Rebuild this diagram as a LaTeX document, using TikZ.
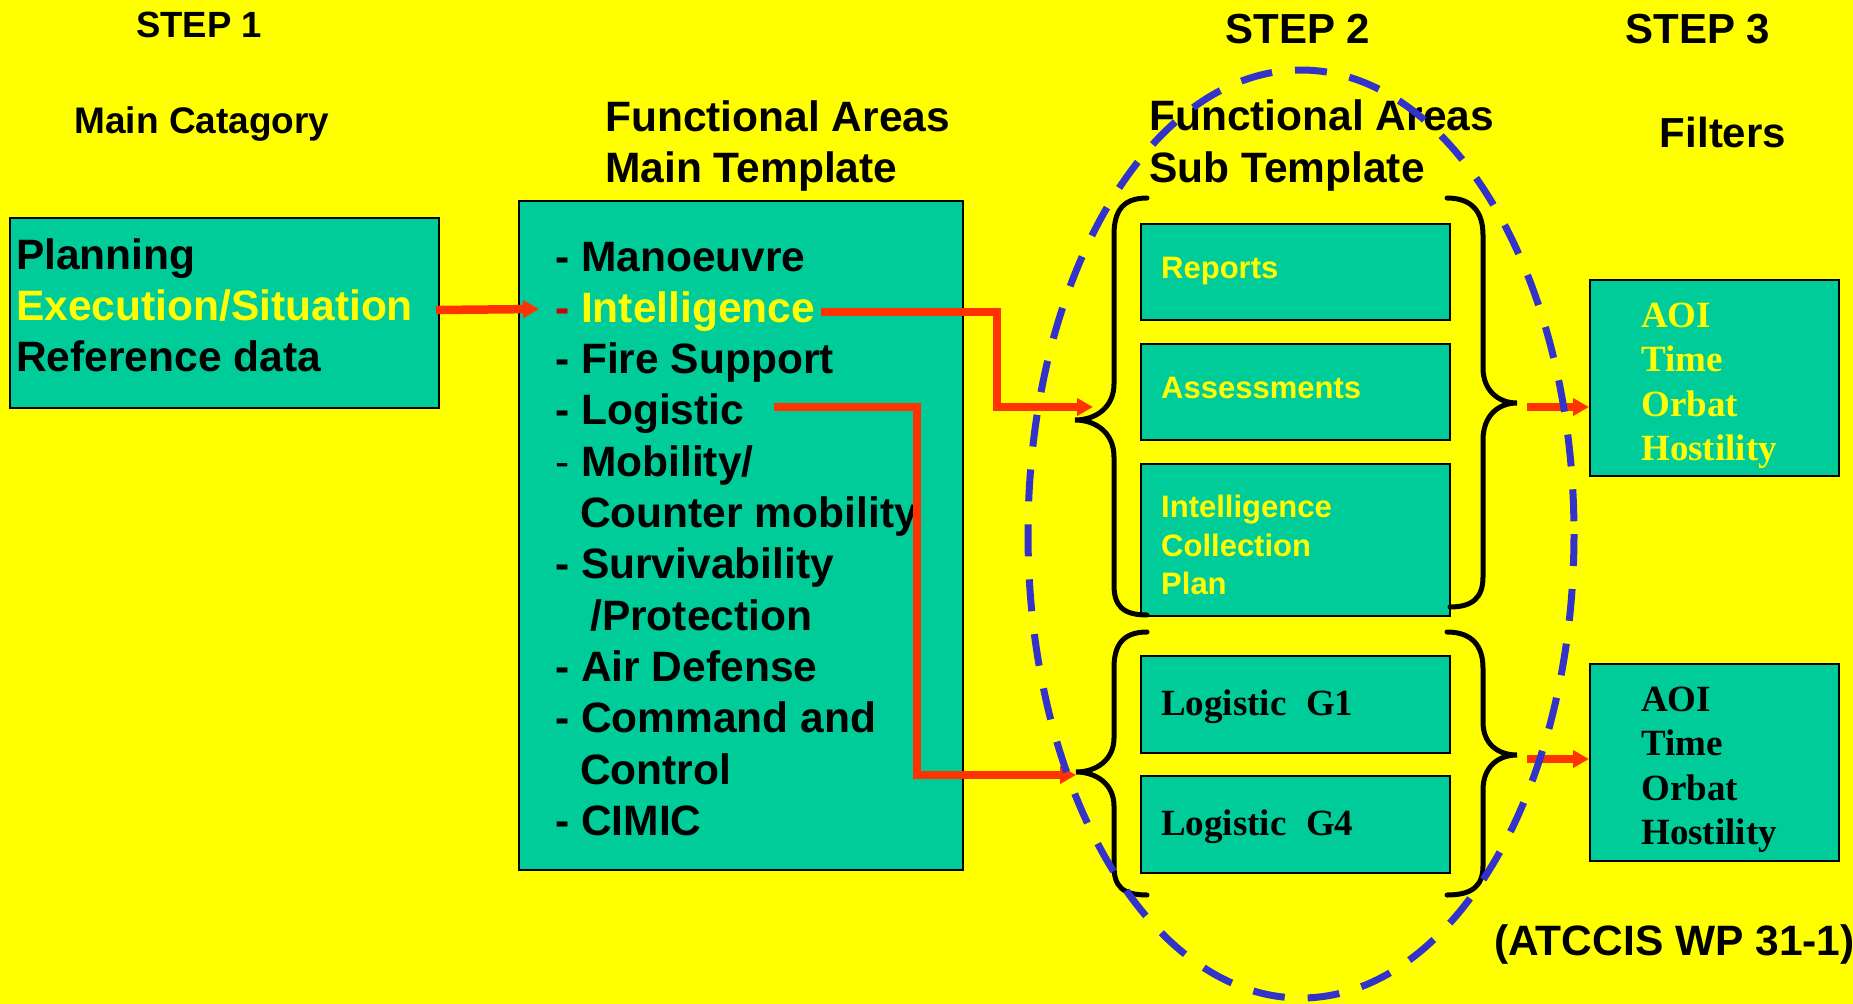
\documentclass[tikz,border=0pt]{standalone}
\usepackage{fontspec}
\setmainfont{Liberation Sans}
\newfontfamily\timesf{Liberation Serif}
\usetikzlibrary{arrows.meta}
\definecolor{bgy}{HTML}{FFFF00}
\definecolor{boxg}{HTML}{00CC99}
\definecolor{redl}{HTML}{FF3300}
\definecolor{dashred}{HTML}{CC0000}
\definecolor{elblue}{HTML}{3333CC}
\definecolor{txty}{HTML}{FFFF00}
\tikzset{
  box/.style={draw=black, line width=2pt, fill=boxg, inner sep=0pt, anchor=north west},
  txt/.style={inner sep=0pt, anchor=base west},
  ctxt/.style={inner sep=0pt, anchor=base},
  big/.style={font=\bfseries\fontsize{42.5}{51}\selectfont},
  head/.style={font=\bfseries\fontsize{36.5}{44}\selectfont},
  subt/.style={font=\bfseries\fontsize{31}{38}\selectfont, text=txty},
  filt/.style={font=\timesf\bfseries\fontsize{37}{44}\selectfont},
  rarr/.style={draw=redl, line width=8.5pt, -{Triangle[length=16pt,width=17pt]}},
  bracepath/.style={draw=black, line width=5pt, line cap=round},
  ell/.style={draw=elblue, line width=7pt, dash pattern=on 32pt off 23pt},
}
\begin{document}
\begin{tikzpicture}[x=1pt,y=-1pt]
\fill[bgy] (0,0) rectangle (1853,1004);
\useasboundingbox (0,0) rectangle (1853,1004);

% headings
\node[ctxt, head] (s1) at (199,37) {STEP 1};
\node[ctxt, head, font=\bfseries\fontsize{37}{44}\selectfont] (mc) at (202,133) {Main Catagory};
\node[ctxt, big, font=\bfseries\fontsize{42}{50}\selectfont] (s2) at (1298,43) {STEP 2};
\node[ctxt, big, font=\bfseries\fontsize{42}{50}\selectfont] (s3) at (1698,43) {STEP 3};
\node[ctxt, big, font=\bfseries\fontsize{42}{50}\selectfont] (fl) at (1723,147) {Filters};
\node[txt, big] (fa1) at (605,131) {Functional Areas};
\node[txt, big] (fa2) at (605,182) {Main Template};
\node[txt, big] (fs1) at (1149,130) {Functional Areas};
\node[txt, big] (fs2) at (1149,182) {Sub Template};

% step 1 box
\node[box, minimum width=429pt, minimum height=190pt] (b1) at (9,217) {};
\node[txt, big] (p1) at (16,269) {Planning};
\node[txt, big, text=txty] (p2) at (16,320) {Execution/Situation};
\node[txt, big] (p3) at (16,371) {Reference data};

% main template box
\node[box, minimum width=444pt, minimum height=669pt] (b2) at (518,200) {};
\node[txt, big] (m1) at (555,271) {- Manoeuvre};
\node[txt, big] (m2) at (555,322.3) {\textcolor{dashred}{-} \textcolor{txty}{Intelligence}};
\node[txt, big] (m3) at (555,373.6) {- Fire Support};
\node[txt, big] (m4) at (555,424.9) {- Logistic};
\node[txt, big] (m5) at (555,476.2) {{\mdseries -} Mobility/};
\node[txt, big] (m6) at (580,527.5) {Counter mobility};
\node[txt, big] (m7) at (555,578.8) {- Survivability};
\node[txt, big] (m8) at (590,630.1) {/Protection};
\node[txt, big] (m9) at (555,681.4) {- Air Defense};
\node[txt, big] (m10) at (555,732.7) {- Command and};
\node[txt, big] (m11) at (580,784) {Control};
\node[txt, big] (m12) at (555,835.3) {- CIMIC};

% sub template boxes
\node[box, minimum width=309pt, minimum height=96pt] (r1) at (1140,223) {};
\node[txt, subt] (r1t) at (1161,278) {Reports};
\node[box, minimum width=309pt, minimum height=96pt] (r2) at (1140,343) {};
\node[txt, subt] (r2t) at (1161,398) {Assessments};
\node[box, minimum width=309pt, minimum height=152pt] (r3) at (1140,463) {};
\node[txt, subt] (r3a) at (1161,517) {Intelligence};
\node[txt, subt] (r3b) at (1161,556) {Collection};
\node[txt, subt] (r3c) at (1161,594) {Plan};
\node[box, minimum width=309pt, minimum height=97pt] (g1) at (1140,655) {};
\node[txt, filt] (g1t) at (1161,715) {Logistic\hspace{0.28em} G1};
\node[box, minimum width=309pt, minimum height=97pt] (g4) at (1140,775) {};
\node[txt, filt] (g4t) at (1161,835) {Logistic\hspace{0.28em} G4};

% filter boxes
\node[box, minimum width=249pt, minimum height=196pt] (f1) at (1589,279) {};
\node[txt, filt, text=txty] (f1a) at (1641,327) {AOI};
\node[txt, filt, text=txty] (f1b) at (1641,371) {Time};
\node[txt, filt, text=txty] (f1c) at (1641,416) {Orbat};
\node[txt, filt, text=txty] (f1d) at (1641,460) {Hostility};
\node[box, minimum width=249pt, minimum height=197pt] (f2) at (1589,663) {};
\node[txt, filt] (f2a) at (1641,711) {AOI};
\node[txt, filt] (f2b) at (1641,755) {Time};
\node[txt, filt] (f2c) at (1641,800) {Orbat};
\node[txt, filt] (f2d) at (1641,844) {Hostility};

\node[txt, big, font=\bfseries\fontsize{42.5}{50}\selectfont] (src) at (1494,955) {(ATCCIS WP 31-1)};

% braces
\draw[bracepath] (1147,198) .. controls (1122,198) and (1114,212) .. (1114,235) -- (1114,384)
  .. controls (1114,407) and (1096,420) .. (1075,420)
  .. controls (1096,420) and (1114,433) .. (1114,457) -- (1114,585)
  .. controls (1114,605) and (1122,615) .. (1147,615);
\draw[bracepath] (1447,198) .. controls (1472,198) and (1483,212) .. (1483,235) -- (1483,368)
  .. controls (1483,390) and (1498,403) .. (1517,403)
  .. controls (1498,403) and (1483,416) .. (1483,440) -- (1483,577)
  .. controls (1483,598) and (1472,607) .. (1450,607);
\draw[bracepath] (1147,632) .. controls (1122,632) and (1114,646) .. (1114,668) -- (1114,738)
  .. controls (1114,760) and (1096,772) .. (1076,772)
  .. controls (1096,772) and (1114,784) .. (1114,806) -- (1114,866)
  .. controls (1114,886) and (1122,895) .. (1147,895);
\draw[bracepath] (1447,632) .. controls (1472,632) and (1483,646) .. (1483,668) -- (1483,722)
  .. controls (1483,744) and (1498,755) .. (1517,755)
  .. controls (1498,755) and (1483,767) .. (1483,790) -- (1483,866)
  .. controls (1483,886) and (1472,895) .. (1447,895);

% connector coordinates
\coordinate (ub) at (1093,407);
\coordinate (lb) at (1076,775);
\coordinate (us) at (1527,407);
\coordinate (ls) at (1527,759);
\coordinate (bt) at (539,309);

% red connectors
\draw[rarr] ([xshift=-4pt,yshift=3pt]b1.east) -- (bt);
\draw[rarr] (821,312) -- (997,312) -- (997,407) -- (ub);
\draw[rarr] (774,407) -- (917,407) -- (917,775) -- (lb);
\draw[rarr] (us) -- (us -| f1.west);
\draw[rarr] (ls) -- (ls -| f2.west);

% dashed ellipse
\draw[ell] (1301,534) ellipse [x radius=273, y radius=464];
\end{tikzpicture}
\end{document}
